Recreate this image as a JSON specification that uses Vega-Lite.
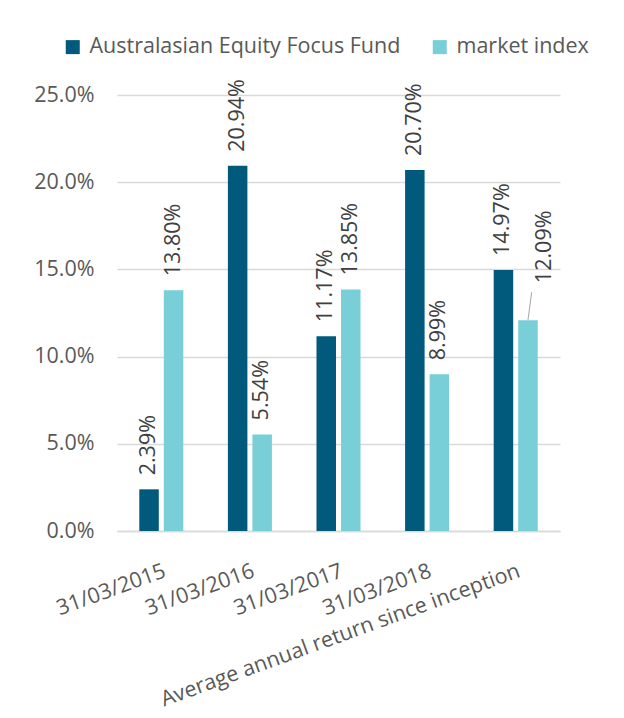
{
  "$schema": "https://vega.github.io/schema/vega-lite/v6.json",
  "width": 443,
  "height": 436,
  "autosize": {"type": "none"},
  "padding": {"left": 117, "top": 95, "right": 64, "bottom": 187},
  "background": "white",
  "config": {"view": {"stroke": null}, "font": "Open Sans"},
  "data": {
    "values": [
      {"category": "31/03/2015", "series": "Australasian Equity Focus Fund", "value": 0.0239},
      {"category": "31/03/2015", "series": "market index", "value": 0.138},
      {"category": "31/03/2016", "series": "Australasian Equity Focus Fund", "value": 0.2094},
      {"category": "31/03/2016", "series": "market index", "value": 0.0554},
      {"category": "31/03/2017", "series": "Australasian Equity Focus Fund", "value": 0.1117},
      {"category": "31/03/2017", "series": "market index", "value": 0.1385},
      {"category": "31/03/2018", "series": "Australasian Equity Focus Fund", "value": 0.207},
      {"category": "31/03/2018", "series": "market index", "value": 0.0899},
      {"category": "Average annual return since inception", "series": "Australasian Equity Focus Fund", "value": 0.1497},
      {"category": "Average annual return since inception", "series": "market index", "value": 0.1209}
    ]
  },
  "encoding": {
    "x": {
      "field": "category",
      "type": "nominal",
      "sort": null,
      "scale": {"paddingInner": 0.503, "paddingOuter": 0.2515},
      "axis": {
        "title": null,
        "labelAngle": -20,
        "labelAlign": "right",
        "labelBaseline": "top",
        "labelFontSize": 21.5,
        "labelColor": "#595959",
        "ticks": false,
        "domainColor": "#d9d9d9",
        "domainWidth": 1.5,
        "labelPadding": 29,
        "labelLimit": 0
      }
    },
    "xOffset": {
      "field": "series",
      "type": "nominal",
      "sort": ["Australasian Equity Focus Fund", "market index"],
      "scale": {"paddingInner": 0.204}
    },
    "y": {
      "field": "value",
      "type": "quantitative",
      "scale": {"domain": [0, 0.25]},
      "axis": {
        "title": null,
        "format": ".1%",
        "values": [0, 0.05, 0.1, 0.15, 0.2, 0.25],
        "domain": false,
        "ticks": false,
        "gridColor": "#d9d9d9",
        "gridWidth": 1.5,
        "labelFontSize": 21.5,
        "labelColor": "#595959",
        "labelPadding": 23
      }
    }
  },
  "layer": [
    {
      "mark": {"type": "bar"},
      "encoding": {
        "color": {
          "field": "series",
          "type": "nominal",
          "sort": ["Australasian Equity Focus Fund", "market index"],
          "scale": {"domain": ["Australasian Equity Focus Fund", "market index"], "range": ["#015a7c", "#78cfd8"]},
          "legend": {
            "title": null,
            "orient": "none",
            "legendX": -55,
            "legendY": -59,
            "direction": "horizontal",
            "symbolType": "square",
            "symbolSize": 196,
            "symbolStrokeWidth": 0,
            "labelFontSize": 21.5,
            "labelColor": "#595959",
            "columnPadding": 28,
            "labelOffset": 6,
            "labelLimit": 0
          }
        }
      }
    },
    {
      "transform": [{"filter": "!(datum.series === 'market index' && datum.category === 'Average annual return since inception')"}],
      "mark": {"type": "text", "angle": -90, "align": "left", "baseline": "middle", "dx": 14, "fontSize": 21.5, "color": "#404040"},
      "encoding": {"text": {"field": "value", "format": ".2%"}}
    },
    {
      "transform": [{"filter": "datum.series === 'market index' && datum.category === 'Average annual return since inception'"}],
      "mark": {"type": "text", "angle": -90, "align": "left", "baseline": "middle", "dx": 37, "dy": 17, "fontSize": 21.5, "color": "#404040"},
      "encoding": {"text": {"field": "value", "format": ".2%"}}
    },
    {
      "transform": [{"filter": "datum.series === 'market index' && datum.category === 'Average annual return since inception'"}],
      "mark": {"type": "rule", "color": "#a6a6a6", "strokeWidth": 1, "x2Offset": 16, "y2Offset": -28},
      "encoding": {
        "x2": {"field": "category"},
        "y2": {"field": "value"}
      }
    }
  ]
}
